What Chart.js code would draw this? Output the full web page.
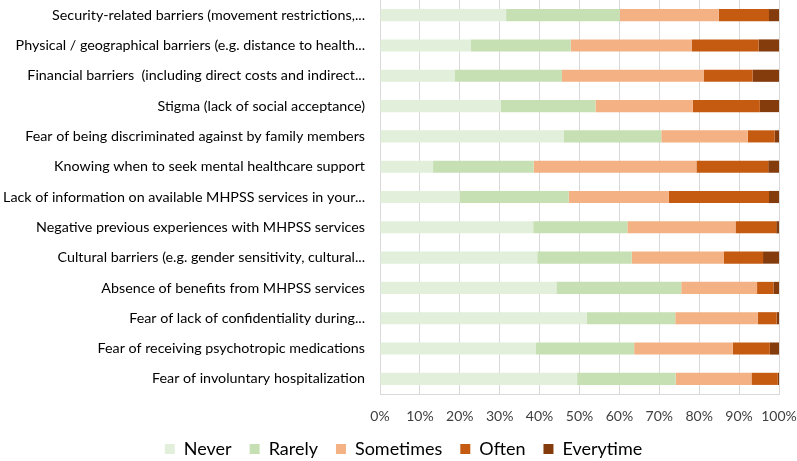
<!DOCTYPE html>
<html>
<head>
<meta charset="utf-8">
<script src="https://cdn.jsdelivr.net/npm/chart.js@4"></script>
<style>
  html, body { margin: 0; padding: 0; background: #fff; }
  #wrap { width: 797px; height: 461px; }
</style>
</head>
<body>
<div id="wrap"><canvas id="barriersChart"></canvas></div>
<script>
const categories = [
    'Security-related barriers (movement restrictions,...',
    'Physical / geographical barriers (e.g. distance to health...',
    'Financial barriers  (including direct costs and indirect...',
    'Stigma (lack of social acceptance)',
    'Fear of being discriminated against by family members',
    'Knowing when to seek mental healthcare support',
    'Lack of information on available MHPSS services in your...',
    'Negative previous experiences with MHPSS services',
    'Cultural barriers (e.g. gender sensitivity, cultural...',
    'Absence of benefits from MHPSS services',
    'Fear of lack of confidentiality during...',
    'Fear of receiving psychotropic medications',
    'Fear of involuntary hospitalization'
];

const never     = [31.6, 22.8, 18.8, 30.2, 46.0, 13.3, 20.0, 38.4, 39.4, 44.2, 51.8, 39.1, 49.4];
const rarely    = [28.5, 25.0, 26.8, 23.8, 24.5, 25.2, 27.3, 23.6, 23.7, 31.3, 22.2, 24.6, 24.7];
const sometimes = [24.8, 30.3, 35.5, 24.4, 21.7, 40.8, 25.1, 27.1, 23.1, 19.0, 20.7, 24.7, 19.0];
const often     = [12.6, 16.8, 12.3, 16.8,  6.7, 18.0, 25.1, 10.2,  9.8,  4.1,  4.7,  9.3,  6.6];
const everytime = [ 2.5,  5.1,  6.6,  4.8,  1.1,  2.7,  2.5,  0.7,  4.0,  1.4,  0.6,  2.3,  0.3];

const xTicks = [0, 10, 20, 30, 40, 50, 60, 70, 80, 90, 100];

const fontFamily = 'Lato, "Open Sans", sans-serif';

// legend keeps wide gaps between items but takes a bit less height,
// and sits a little right of centre like the original
const legendFit = {
    id: 'legendFit',
    beforeLayout(chart) {
        if (chart.legend && !chart.legend._patched) {
            const fit = chart.legend.fit;
            chart.legend.fit = function () {
                fit.call(this);
                this.height -= 7;
            };
            chart.legend._patched = true;
        }
    },
    afterLayout(chart) {
        chart.legend.left += 14;
        chart.legend.right += 14;
    }
};

let ctx = document.getElementById('barriersChart').getContext('2d');
new Chart(ctx, {
    type: 'bar',
    data: {
        labels: categories,
        datasets: [
            { label: 'Never', data: never, backgroundColor: '#e2efda' },
            { label: 'Rarely', data: rarely, backgroundColor: '#c6e0b4' },
            { label: 'Sometimes', data: sometimes, backgroundColor: '#f4b183' },
            { label: 'Often', data: often, backgroundColor: '#c55a11' },
            { label: 'Everytime', data: everytime, backgroundColor: '#843c0c' }
        ]
    },
    plugins: [legendFit],
    options: {
        indexAxis: 'y',
        responsive: true,
        maintainAspectRatio: false,
        animation: false,
        datasets: {
            bar: { barPercentage: 0.4, categoryPercentage: 1.0, borderWidth: 0 }
        },
        layout: { padding: { top: 0, right: 18, left: 0, bottom: 0 } },
        plugins: {
            tooltip: { enabled: false },
            legend: {
                position: 'bottom',
                labels: {
                    boxWidth: 10,
                    boxHeight: 10,
                    padding: 18,
                    color: '#000',
                    font: { family: fontFamily, size: 18 }
                }
            }
        },
        scales: {
            x: {
                stacked: true,
                min: 0,
                max: 100,
                afterBuildTicks: (scale) => { scale.ticks = xTicks.map(v => ({ value: v })); },
                afterFit: (scale) => {
                    scale.height = 28;
                    scale.paddingLeft = 0;
                    scale.paddingRight = 0;
                },
                ticks: {
                    color: '#404040',
                    padding: 14,
                    autoSkip: false,
                    maxRotation: 0,
                    minRotation: 0,
                    font: { family: fontFamily, size: 14 },
                    callback: (v) => v + '%'
                },
                grid: { color: '#d9d9d9', lineWidth: 1, drawTicks: false },
                border: { display: true, color: '#d9d9d9' }
            },
            y: {
                stacked: true,
                afterFit: (scale) => {
                    scale.width = 380;
                    scale.paddingTop = 0;
                    scale.paddingBottom = 0;
                },
                ticks: {
                    color: '#000',
                    padding: 15,
                    autoSkip: false,
                    font: { family: fontFamily, size: 14.3 }
                },
                grid: { display: false, drawTicks: false },
                border: { display: false }
            }
        }
    }
});
</script>
</body>
</html>
